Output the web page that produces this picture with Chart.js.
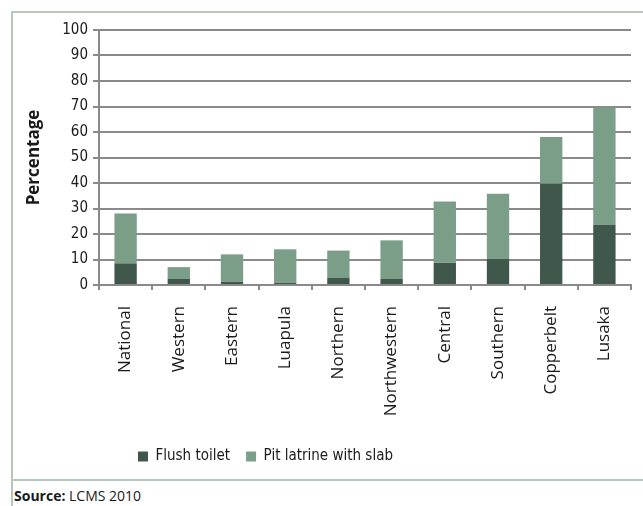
<!DOCTYPE html>
<html>
<head>
<meta charset="utf-8">
<script src="https://cdn.jsdelivr.net/npm/chart.js@4.4.1/dist/chart.umd.min.js"></script>
<style>
  html, body { margin: 0; padding: 0; background: #fff; width: 643px; height: 506px; overflow: hidden; }
  #wrap { position: absolute; left: 0; top: 0; width: 643px; height: 480px; }
  .frame-top { position: absolute; left: 11px; top: 11px; width: 640px; height: 0; border-top: 2px solid #b5c8bb; }
  .frame-left { position: absolute; left: 11px; top: 11px; width: 0; height: 500px; border-left: 2px solid #b5c8bb; }
  .frame-mid { position: absolute; left: 11px; top: 479px; width: 640px; height: 0; border-top: 2px solid #b5c8bb; }
  #source { position: absolute; left: 14px; top: 487px; font-family: "Open Sans", sans-serif; font-size: 14px; color: #1a1a1a; line-height: 18px; }
</style>
</head>
<body>
<div id="wrap"><canvas id="c" width="643" height="480"></canvas></div>
<div class="frame-top"></div>
<div class="frame-left"></div>
<div class="frame-mid"></div>
<div id="source"><b>Source:</b> LCMS 2010</div>
<script>
const provinces = ["National", "Western", "Eastern", "Luapula", "Northern",
  "Northwestern", "Central", "Southern", "Copperbelt", "Lusaka"];
const flushToilet = [8.5, 2.5, 1.3, 0.9, 2.9, 2.5, 8.7, 10.3, 39.7, 23.6];
const pitLatrineWithSlab = [19.5, 4.5, 10.7, 13.1, 10.6, 15.0, 24.0, 25.5, 18.3, 46.0];
const yTicks = [0, 10, 20, 30, 40, 50, 60, 70, 80, 90, 100];

const GRID = "#8a8a8a";
const INK = "#1a1a1a";
const PLOT_LEFT = 99, PLOT_BOTTOM = 285, PAD_BOTTOM = 6;

// Moves the legend a little left of the canvas centre.
const legendShift = {
  id: "legendShift",
  afterLayout(chart) {
    const lg = chart.legend;
    if (lg) { lg.left -= 50; lg.right -= 50; }
  }
};

new Chart(document.getElementById("c"), {
  type: "bar",
  data: {
    labels: provinces,
    datasets: [
      { label: "Flush toilet", data: flushToilet, backgroundColor: "#40574b", borderWidth: 0 },
      { label: "Pit latrine with slab", data: pitLatrineWithSlab, backgroundColor: "#7b9e89", borderWidth: 0 }
    ]
  },
  options: {
    responsive: false,
    animation: false,
    layout: { padding: { top: 30, right: 12, left: 0, bottom: PAD_BOTTOM } },
    datasets: { bar: { categoryPercentage: 1.0, barPercentage: 0.42 } },
    plugins: {
      tooltip: { enabled: false },
      legend: {
        position: "bottom",
        labels: {
          boxWidth: 10, boxHeight: 10, padding: 16, color: INK,
          font: { family: "'Liberation Sans Narrow', 'DejaVu Sans Condensed', sans-serif", size: 15 }
        }
      }
    },
    scales: {
      x: {
        stacked: true,
        grid: { display: true, drawOnChartArea: false, drawTicks: true, tickLength: 5, color: GRID, lineWidth: 2, offset: true },
        border: { display: true, color: GRID, width: 2 },
        ticks: {
          minRotation: 90, maxRotation: 90, autoSkip: false, padding: 16, color: INK,
          font: { family: "'Open Sans', sans-serif", size: 17 }
        },
        afterFit(scale) {
          const lg = scale.chart.legend;
          scale.height = scale.chart.height - PLOT_BOTTOM - PAD_BOTTOM - (lg ? lg.height : 0);
        }
      },
      y: {
        stacked: true,
        min: 0, max: 100,
        afterBuildTicks(scale) { scale.ticks = yTicks.map(v => ({ value: v })); },
        grid: { color: GRID, lineWidth: 2, tickLength: 6, drawTicks: true },
        border: { display: true, color: GRID, width: 2 },
        ticks: {
          padding: 5, color: INK,
          font: { family: "'Liberation Sans Narrow', 'DejaVu Sans Condensed', sans-serif", size: 15 }
        },
        title: {
          display: true, text: "Percentage", color: INK,
          padding: { top: 24, bottom: 0 },
          font: { family: "'Open Sans', sans-serif", size: 17, weight: "bold" }
        },
        afterFit(scale) { scale.width = PLOT_LEFT; }
      }
    }
  },
  plugins: [legendShift]
});
</script>
</body>
</html>
